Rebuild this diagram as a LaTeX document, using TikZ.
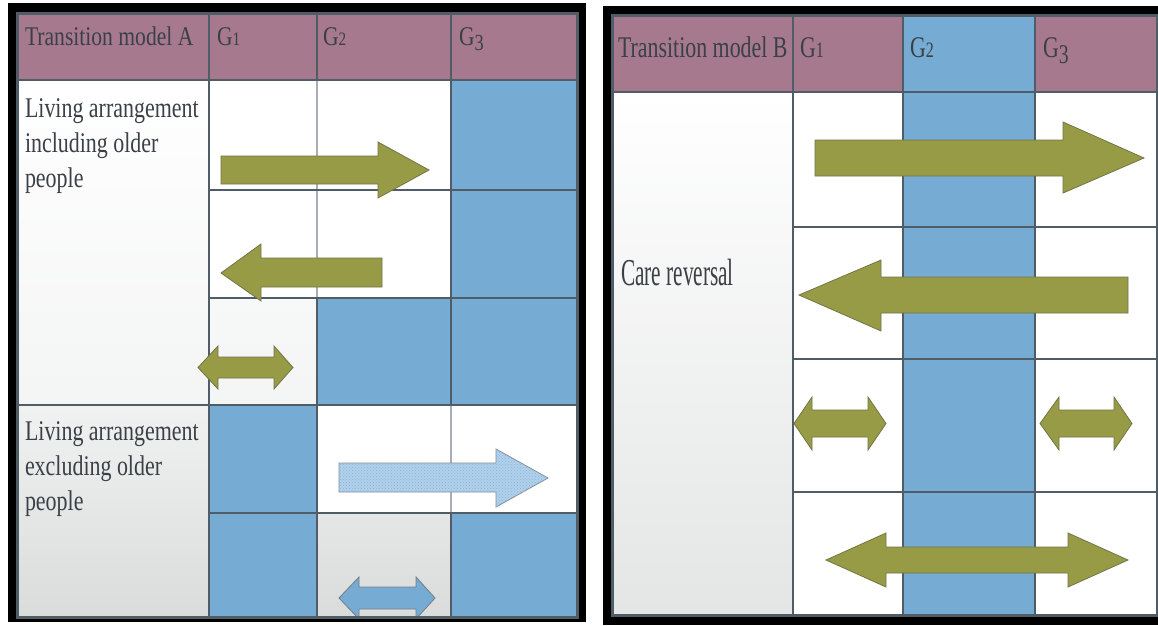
\documentclass[tikz,border=0pt]{standalone}
\usepackage{fontspec}
\setmainfont{Liberation Serif}
\newfontfamily\hAfont{Liberation Serif}[FakeStretch=0.8]
\newfontfamily\hBfont{Liberation Serif}[FakeStretch=0.73]
\newfontfamily\labAfont{Liberation Serif}[FakeStretch=0.77]
\newfontfamily\labBfont{Liberation Serif}[FakeStretch=0.56]
\usetikzlibrary{patterns}
\definecolor{hdr}{RGB}{166,121,143}
\definecolor{cellblue}{RGB}{118,172,212}
\definecolor{olive}{RGB}{151,155,69}
\definecolor{olivedge}{RGB}{112,118,70}
\definecolor{gridc}{RGB}{80,92,102}
\definecolor{gridl}{RGB}{168,174,180}
\definecolor{txt}{RGB}{58,64,70}
\definecolor{bodyg}{RGB}{218,220,220}
\definecolor{bodyr}{RGB}{228,229,229}
\definecolor{lightblue}{RGB}{176,209,236}
\definecolor{dotblue}{RGB}{140,180,215}
\begin{document}
\begin{tikzpicture}[x=1pt,y=-1pt, line join=miter,
  olivearrow/.style={fill=olive, draw=olivedge, line width=0.8pt},
  bluearrow/.style={fill=cellblue, draw=gridc!80, line width=0.8pt},
  dotarrow/.style={fill=lightblue, draw=gridc!70, line width=0.8pt},
  gmain/.style={draw=gridc, line width=1.1pt},
  glight/.style={draw=gridl, line width=1.1pt},
  outline/.style={draw=gridc, line width=3pt},
  blackframe/.style={fill=black},
  hdrcell/.style={fill=hdr},
  bluecell/.style={fill=cellblue},
  txtnode/.style={inner sep=0pt, outer sep=0pt, text=txt},
]
\useasboundingbox (0,0) rectangle (1158,625);
\fill[white] (0,0) rectangle (1158,625);

% ================= Left panel =================
\fill[blackframe] (8,3) rectangle (586,622);
\shade[top color=white, bottom color=bodyg!30!white] (17,80) rectangle (577,405);
\shade[top color=bodyg!40!white, bottom color=bodyg] (17,405) rectangle (577,617);
\fill[white] (209,80) rectangle (451,298);
\fill[white] (317,405) rectangle (577,513);
\fill[bluecell] (451,80) rectangle (577,405);
\fill[bluecell] (317,298) rectangle (451,405);
\fill[bluecell] (209,405) rectangle (317,617);
\fill[bluecell] (451,513) rectangle (577,617);
\fill[hdrcell] (17,13) rectangle (577,80);

\draw[gmain] (209,13) -- (209,617);
\draw[gmain] (317,13) -- (317,80);
\draw[glight] (317,80) -- (317,298);
\draw[gmain] (317,298) -- (317,617);
\draw[gmain] (451,13) -- (451,405);
\draw[glight] (451,405) -- (451,513);
\draw[gmain] (451,513) -- (451,617);
\draw[gmain] (17,80) -- (577,80);
\draw[gmain] (209,190) -- (577,190);
\draw[gmain] (209,298) -- (577,298);
\draw[gmain] (17,405) -- (577,405);
\draw[gmain] (209,513) -- (577,513);

% arrows, left panel
\draw[olivearrow] (221,156) -- (378,156) -- (378,142) -- (429,170) -- (378,198) -- (378,184) -- (221,184) -- cycle;
\draw[olivearrow] (221,273) -- (261,244) -- (261,258) -- (382,258) -- (382,287) -- (261,287) -- (261,301) -- cycle;
\draw[olivearrow] (198,367.5) -- (218,346) -- (218,357) -- (274,357) -- (274,346) -- (293,367.5) -- (274,389) -- (274,378) -- (218,378) -- (218,389) -- cycle;
\draw[dotarrow] (339,463) -- (496,463) -- (496,449) -- (548,478) -- (496,507) -- (496,492) -- (339,492) -- cycle;
\fill[pattern=crosshatch dots, pattern color=dotblue] (339,463) -- (496,463) -- (496,449) -- (548,478) -- (496,507) -- (496,492) -- (339,492) -- cycle;
\begin{scope}
\clip (17,13) rectangle (577,617);
\draw[bluearrow] (339,598) -- (359,577) -- (359,587) -- (416,587) -- (416,577) -- (435,598) -- (416,619) -- (416,609) -- (359,609) -- (359,619) -- cycle;
\end{scope}
\draw[outline] (17,13) rectangle (577,617);

% texts, left panel
\node[txtnode, anchor=base west] (hA) at (25,45) {\hAfont\fontsize{27}{30}\selectfont Transition model A};
\node[txtnode, anchor=base west] (hA1) at (217,45) {\hAfont\fontsize{27}{30}\selectfont G{\fontsize{19}{22}\selectfont 1}};
\node[txtnode, anchor=base west] (hA2) at (323,45) {\hAfont\fontsize{27}{30}\selectfont G{\fontsize{19}{22}\selectfont 2}};
\node[txtnode, anchor=base west] (hA3) at (459,45) {\hAfont\fontsize{27}{30}\selectfont G\raisebox{-5pt}{\fontsize{23}{26}\selectfont 3}};

\node[txtnode, anchor=base west] (la1) at (25,117) {\labAfont\fontsize{28.5}{35}\selectfont Living arrangement};
\node[txtnode, anchor=base west] (la2) at (25,152) {\labAfont\fontsize{28.5}{35}\selectfont including older};
\node[txtnode, anchor=base west] (la3) at (25,187) {\labAfont\fontsize{28.5}{35}\selectfont people};
\node[txtnode, anchor=base west] (lb1) at (25,440) {\labAfont\fontsize{28.5}{35}\selectfont Living arrangement};
\node[txtnode, anchor=base west] (lb2) at (25,475) {\labAfont\fontsize{28.5}{35}\selectfont excluding older};
\node[txtnode, anchor=base west] (lb3) at (25,510) {\labAfont\fontsize{28.5}{35}\selectfont people};

% ================= Right panel =================
\fill[blackframe] (603,6) rectangle (1158,625);
\fill[white] (612,92) rectangle (1157,615);
\shade[top color=white, bottom color=bodyr] (612,92) rectangle (793,615);
\fill[hdrcell] (612,15) rectangle (1157,92);
\fill[bluecell] (903,15) rectangle (1035,615);

\draw[gmain] (793,15) -- (793,615);
\draw[gmain] (903,15) -- (903,615);
\draw[gmain] (1035,15) -- (1035,615);
\draw[gmain] (612,92) -- (1157,92);
\draw[gmain] (793,227) -- (1157,227);
\draw[gmain] (793,359) -- (1157,359);
\draw[gmain] (793,492) -- (1157,492);

% arrows, right panel
\draw[olivearrow] (815,140) -- (1063,140) -- (1063,122) -- (1144,158) -- (1063,193) -- (1063,176) -- (815,176) -- cycle;
\draw[olivearrow] (799,295) -- (881,260) -- (881,277) -- (1128,277) -- (1128,313) -- (881,313) -- (881,331) -- cycle;
\draw[olivearrow] (794,423.5) -- (812,397) -- (812,410) -- (868,410) -- (868,397) -- (886,423.5) -- (868,450) -- (868,437) -- (812,437) -- (812,450) -- cycle;
\draw[olivearrow] (1040,423.5) -- (1059,397) -- (1059,410) -- (1114,410) -- (1114,397) -- (1132,423.5) -- (1114,450) -- (1114,437) -- (1059,437) -- (1059,450) -- cycle;
\draw[olivearrow] (826,560) -- (886,533) -- (886,547) -- (1068,547) -- (1068,533) -- (1128,560) -- (1068,587) -- (1068,573) -- (886,573) -- (886,587) -- cycle;
\draw[outline] (612,15) rectangle (1157,615);

% texts, right panel
\node[txtnode, anchor=base west] (hB) at (618,57) {\hBfont\fontsize{30}{34}\selectfont Transition model B};
\node[txtnode, anchor=base west] (hB1) at (800,57) {\hBfont\fontsize{30}{34}\selectfont G{\fontsize{22}{26}\selectfont 1}};
\node[txtnode, anchor=base west] (hB2) at (910,57) {\hBfont\fontsize{30}{34}\selectfont G{\fontsize{22}{26}\selectfont 2}};
\node[txtnode, anchor=base west] (hB3) at (1043,57) {\hBfont\fontsize{30}{34}\selectfont G\raisebox{-6pt}{\fontsize{27}{30}\selectfont 3}};
\node[txtnode, anchor=base west] (care) at (621,285) {\labBfont\fontsize{38}{44}\selectfont Care reversal};
\end{tikzpicture}
\end{document}
